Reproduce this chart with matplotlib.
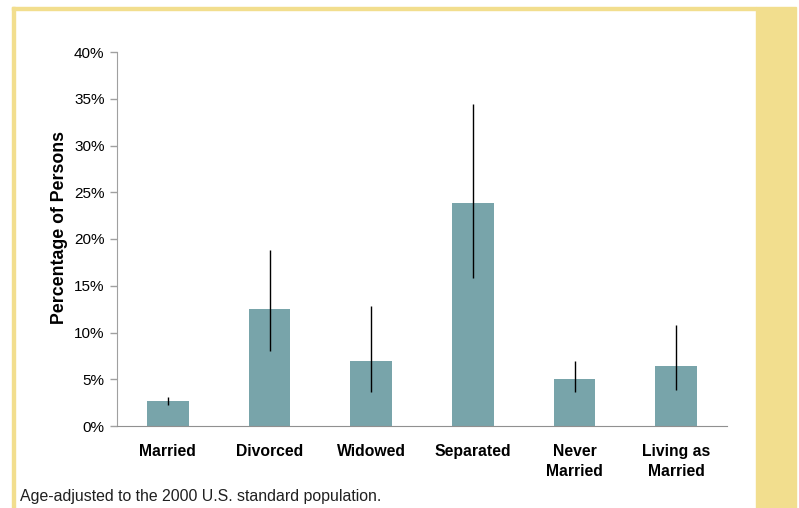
import matplotlib.pyplot as plt
import matplotlib.patches as patches
import numpy as np

plt.rcParams['font.family'] = ['Liberation Sans', 'DejaVu Sans']

# Porcentaje de personas por estado civil (ajustado por edad)
categories = ['Married', 'Divorced', 'Widowed', 'Separated', 'Never\nMarried', 'Living as\nMarried']
values = [2.7, 12.5, 6.95, 23.85, 5.0, 6.4]
lower = [2.2, 8.0, 3.6, 15.8, 3.6, 3.85]
upper = [3.1, 18.8, 12.8, 34.4, 6.95, 10.8]
yticks = [0, 5, 10, 15, 20, 25, 30, 35, 40]

W, H = 799, 508
fig = plt.figure(figsize=(W / 100, H / 100), dpi=100)

# Marco amarillo alrededor del grafico
yellow = '#F2DE8E'
fig.patches.append(patches.Rectangle((12 / W, 0), 2.5 / W, 1 - 7 / H, transform=fig.transFigure,
                                     color=yellow, zorder=0))
fig.patches.append(patches.Rectangle((12 / W, 1 - 10 / H), (756 - 12) / W, 3 / H, transform=fig.transFigure,
                                     color=yellow, zorder=0))
fig.patches.append(patches.Rectangle((756 / W, 0), 40 / W, 1 - 7 / H, transform=fig.transFigure,
                                     color=yellow, zorder=0))

ax = fig.add_axes([117 / W, (H - 426) / H, (727 - 117) / W, (426 - 52) / H])

x = np.arange(len(categories))
vals = np.array(values)
err = [vals - np.array(lower), np.array(upper) - vals]
ax.bar(x, vals, width=0.41, color='#78A4AA', zorder=2)
ax.errorbar(x, vals, yerr=err, fmt='none', ecolor='black', elinewidth=1.0, capsize=0, zorder=3)

ax.set_xlim(-0.5, 5.5)
ax.set_ylim(0, 40)
ax.set_yticks(yticks)
ax.set_yticklabels([f'{t}%' for t in yticks], fontsize=11)
ax.set_xticks(x)
ax.set_xticklabels(categories, fontsize=11.3, fontweight='bold', linespacing=1.45)
ax.tick_params(axis='x', length=0, pad=13)
ax.tick_params(axis='y', length=5, color='#A0A0A0', width=1, pad=4)

for side in ['top', 'right']:
    ax.spines[side].set_visible(False)
ax.spines['left'].set_color('#A0A0A0')
ax.spines['bottom'].set_color('#909090')

ax.set_ylabel('Percentage of Persons', fontsize=12.8, fontweight='bold')
ax.yaxis.set_label_coords(-0.08, 0.532)

fig.text(20 / W, 1 - 501 / H, 'Age-adjusted to the 2000 U.S. standard population.',
         fontsize=11.4, color='#202020')

fig.savefig('out.png', dpi=100)
